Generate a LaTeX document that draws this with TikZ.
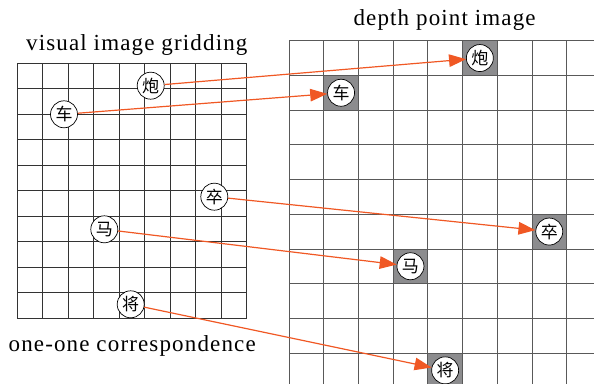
\documentclass[tikz,border=0pt]{standalone}
\usepackage{fontspec}
\setmainfont{Liberation Serif}
\newfontfamily\cjk{Noto Sans CJK SC}
\usepackage{tikz}
\usetikzlibrary{positioning, arrows.meta}
\definecolor{linkred}{RGB}{240,88,36}
\definecolor{cellgray}{RGB}{140,140,142}

\begin{document}
\begin{tikzpicture}[x=1pt, y=1pt,
  piece/.style={circle, draw=black, fill=white, line width=0.7pt, minimum size=27pt, inner sep=0pt, font=\cjk\fontsize{17}{17}\selectfont},
  cell/.style={fill=cellgray, minimum size=34.7pt, inner sep=0pt},
  link/.style={linkred, line width=1.2pt, -{Triangle[length=17pt, width=12.5pt]}},
  title/.style={anchor=base, font=\fontsize{23}{25}\selectfont\addfontfeatures{LetterSpace=5}}]
\useasboundingbox (0,0) rectangle (594,383);

% Visual image grid
\draw[black!80, line width=0.75pt, shift={(17.3,64.7)}] (0,0) grid[step=25.5pt] (229.6,255.1);

% Depth point grid (runs off the page)
\begin{scope}
\clip (0,0) rectangle (594,383);
\node[cell] (cpao) at (479.85,324.95) {};
\node[cell] (cche) at (341.05,290.25) {};
\node[cell] (czu) at (549.25,151.45) {};
\node[cell] (cma) at (410.45,116.75) {};
\node[cell] (cjiang) at (445.15,12.65) {};
\draw[black!65, line width=0.75pt, shift={(289,342.3)}] (0,-347.1) grid[step=34.7pt] (312.4,0.1);
\end{scope}

% Titles
\node[title] (vtitle) at (136.8,332.3) {visual image gridding};
\node[title] (dtitle) at (444.6,357) {depth point image};
\node[title] (ctitle) at (132.2,32) {one-one correspondence};

% Pieces on the visual grid
\node[piece] (lpao) at (150.7,297.3) {炮};
\node[piece] (lche) at (64,268.7) {车};
\node[piece] (lzu) at (214.3,186.3) {卒};
\node[piece] (lma) at (104.3,153.7) {马};
\node[piece] (ljiang) at (130.7,78.7) {将};

% Pieces on the depth grid
\node[piece] (rpao) at (cpao) {炮};
\node[piece] (rche) at (cche) {车};
\node[piece] (rzu) at (czu) {卒};
\node[piece] (rma) at (cma) {马};
\node[piece] (rjiang) at (cjiang) {将};

% Correspondence arrows
\draw[link] (lpao) -- (rpao);
\draw[link] (lche) -- (rche);
\draw[link] (lzu) -- (rzu);
\draw[link] (lma) -- (rma);
\draw[link] (ljiang) -- (rjiang);

\end{tikzpicture}
\end{document}
